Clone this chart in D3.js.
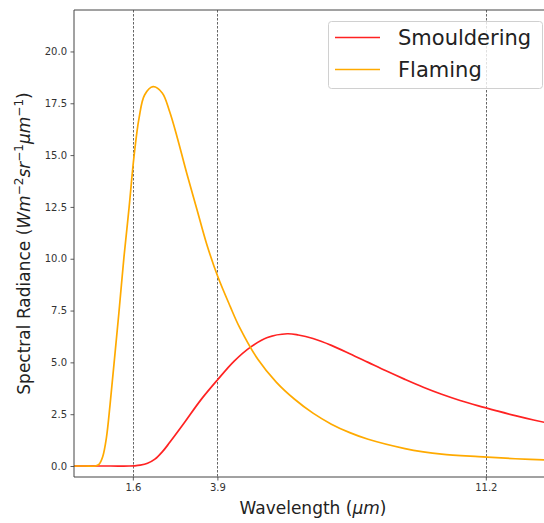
<!DOCTYPE html>
<html>
<head>
<meta charset="utf-8">
<script src="https://cdn.jsdelivr.net/npm/d3@7"></script>
<style>
  html, body { margin: 0; padding: 0; background: #fff; }
  svg { display: block; font-family: "DejaVu Sans", sans-serif; }
</style>
</head>
<body>
<svg id="chart" width="544" height="523"></svg>
<script>
// ---- data ----
const seriesNames = ["Smouldering", "Flaming"];
const seriesColors = ["#ff2222", "#ffaa00"];

const smoulderingWavelength = [0, 1.0, 1.5, 1.65, 1.8, 2.0, 2.2, 2.4, 2.6, 2.99, 3.45, 3.90, 4.35, 4.81, 5.26, 5.80, 6.1, 6.5, 7.0, 7.5, 8.0, 8.5, 9.0, 9.5, 10.0, 10.5, 11.0, 11.5, 12.0, 12.5, 13.0];
const smoulderingRadiance   = [0, 0,   0,   0.01, 0.04, 0.13, 0.33, 0.68, 1.13, 2.06, 3.19, 4.15, 5.05, 5.75, 6.2, 6.38, 6.32, 6.15, 5.82, 5.42, 5.0, 4.58, 4.18, 3.8, 3.46, 3.16, 2.9, 2.66, 2.43, 2.22, 2.03];

const flamingWavelength = [0, 0.3, 0.58, 0.68, 0.78, 0.88, 0.98, 1.09, 1.22, 1.36, 1.50, 1.63, 1.77, 1.92, 2.15, 2.40, 2.60, 2.80, 3.07, 3.34, 3.61, 3.91, 4.25, 4.5, 5.0, 5.5, 6.0, 6.5, 7.0, 7.5, 8.0, 9.0, 9.5, 10.0, 11.0, 12.0, 13.0];
const flamingRadiance   = [0, 0,   0,    0.08, 0.45, 1.35, 2.95, 4.96, 7.37, 10.1, 12.5, 14.9, 16.8, 17.9, 18.3, 18.0, 17.1, 15.9, 14.1, 12.4, 10.7, 9.14, 7.69, 6.7, 5.15, 4.05, 3.22, 2.55, 2.02, 1.61, 1.29, 0.84, 0.68, 0.57, 0.45, 0.35, 0.28];

const xTickValues = [1.6, 3.9, 11.2];
const xTickLabels = ["1.6", "3.9", "11.2"];
const yTickValues = [0, 2.5, 5, 7.5, 10, 12.5, 15, 17.5, 20];
const yTickLabels = ["0.0", "2.5", "5.0", "7.5", "10.0", "12.5", "15.0", "17.5", "20.0"];
const bandLines = [1.6, 3.9, 11.2];

// ---- layout ----
const svg = d3.select("#chart");
const pL = 74, pR = 552, pT = 10, pB = 477;

const x = d3.scaleLinear().domain([0, 13]).range([pL, pR]);
const y = d3.scaleLinear().domain([-0.53, 22.0]).range([pB, pT]);

const tickColor = "#333";
const spineColor = "#444";

// clip
svg.append("defs").append("clipPath").attr("id", "clip")
  .append("rect").attr("x", pL).attr("y", pT).attr("width", pR - pL).attr("height", pB - pT);

// dashed band lines
svg.append("g").selectAll("line").data(bandLines).join("line")
  .attr("x1", d => Math.round(x(d)) + 0.5).attr("x2", d => Math.round(x(d)) + 0.5)
  .attr("y1", pT).attr("y2", pB)
  .attr("stroke", "#666").attr("stroke-width", 1)
  .attr("stroke-dasharray", "2.5,1.5");

// lines
const series = [
  { name: seriesNames[0], color: seriesColors[0], pts: smoulderingWavelength.map((w, i) => [w, smoulderingRadiance[i]]) },
  { name: seriesNames[1], color: seriesColors[1], pts: flamingWavelength.map((w, i) => [w, flamingRadiance[i]]) }
];
const line = d3.line().x(d => x(d[0])).y(d => y(Math.max(0, d[1]))).curve(d3.curveCatmullRom.alpha(0.5));
svg.append("g").attr("clip-path", "url(#clip)").selectAll("path").data(series).join("path")
  .attr("d", d => line(d.pts))
  .attr("fill", "none")
  .attr("stroke", d => d.color)
  .attr("stroke-width", 1.7)
  .attr("stroke-linejoin", "round");

// axes
const xAxis = d3.axisBottom(x).tickValues(xTickValues).tickFormat((d, i) => xTickLabels[i]).tickSize(3.5).tickPadding(3.5);
const yAxis = d3.axisLeft(y).tickValues(yTickValues).tickFormat((d, i) => yTickLabels[i]).tickSize(3.5).tickPadding(3.5);

const gx = svg.append("g").attr("transform", `translate(0,${pB})`).call(xAxis);
const gy = svg.append("g").attr("transform", `translate(${pL},0)`).call(yAxis);
[gx, gy].forEach(g => {
  g.select(".domain").remove();
  g.selectAll(".tick line").attr("stroke", tickColor).attr("stroke-width", 0.8);
  g.selectAll(".tick text").attr("fill", tickColor).style("font-size", "10px").style("font-family", "DejaVu Sans");
});

// spines
svg.append("line").attr("x1", pL).attr("x2", pL).attr("y1", pT).attr("y2", pB).attr("stroke", spineColor).attr("stroke-width", 1);
svg.append("line").attr("x1", pL).attr("x2", pR).attr("y1", pB).attr("y2", pB).attr("stroke", spineColor).attr("stroke-width", 1);
svg.append("line").attr("x1", pL).attr("x2", pR).attr("y1", pT).attr("y2", pT).attr("stroke", spineColor).attr("stroke-width", 1);
svg.append("line").attr("x1", pR).attr("x2", pR).attr("y1", pT).attr("y2", pB).attr("stroke", spineColor).attr("stroke-width", 1);

// x label
const xl = svg.append("text").attr("x", (pL + pR) / 2).attr("y", 514)
  .attr("text-anchor", "middle").attr("fill", "#222").style("font-size", "17px");
xl.append("tspan").text("Wavelength (");
xl.append("tspan").style("font-style", "italic").text("µm");
xl.append("tspan").text(")");

// y label
const yl = svg.append("text").attr("transform", `translate(30,${(pT + pB) / 2}) rotate(-90)`)
  .attr("text-anchor", "middle").attr("fill", "#222").style("font-size", "17px");
yl.append("tspan").text("Spectral Radiance (");
yl.append("tspan").style("font-style", "italic").text("Wm");
yl.append("tspan").attr("dy", -7).style("font-size", "12px").text("−2");
yl.append("tspan").attr("dy", 7).style("font-style", "italic").text("sr");
yl.append("tspan").attr("dy", -7).style("font-size", "12px").text("−1");
yl.append("tspan").attr("dy", 7).style("font-style", "italic").text("µm");
yl.append("tspan").attr("dy", -7).style("font-size", "12px").text("−1");
yl.append("tspan").attr("dy", 7).text(")");

// legend
const lg = svg.append("g");
lg.append("rect").attr("x", 328.5).attr("y", 21.5).attr("width", 214).attr("height", 67)
  .attr("rx", 3).attr("fill", "#fff").attr("fill-opacity", 0.8)
  .attr("stroke", "#d0d0d0").attr("stroke-width", 1);
series.forEach((s, i) => {
  const yy = 37.5 + i * 32;
  lg.append("line").attr("x1", 335).attr("x2", 380).attr("y1", yy).attr("y2", yy)
    .attr("stroke", s.color).attr("stroke-width", 1.7);
  lg.append("text").attr("x", 398).attr("y", yy + 7.5).attr("fill", "#222")
    .style("font-size", "21px").text(s.name);
});
</script>
</body>
</html>
